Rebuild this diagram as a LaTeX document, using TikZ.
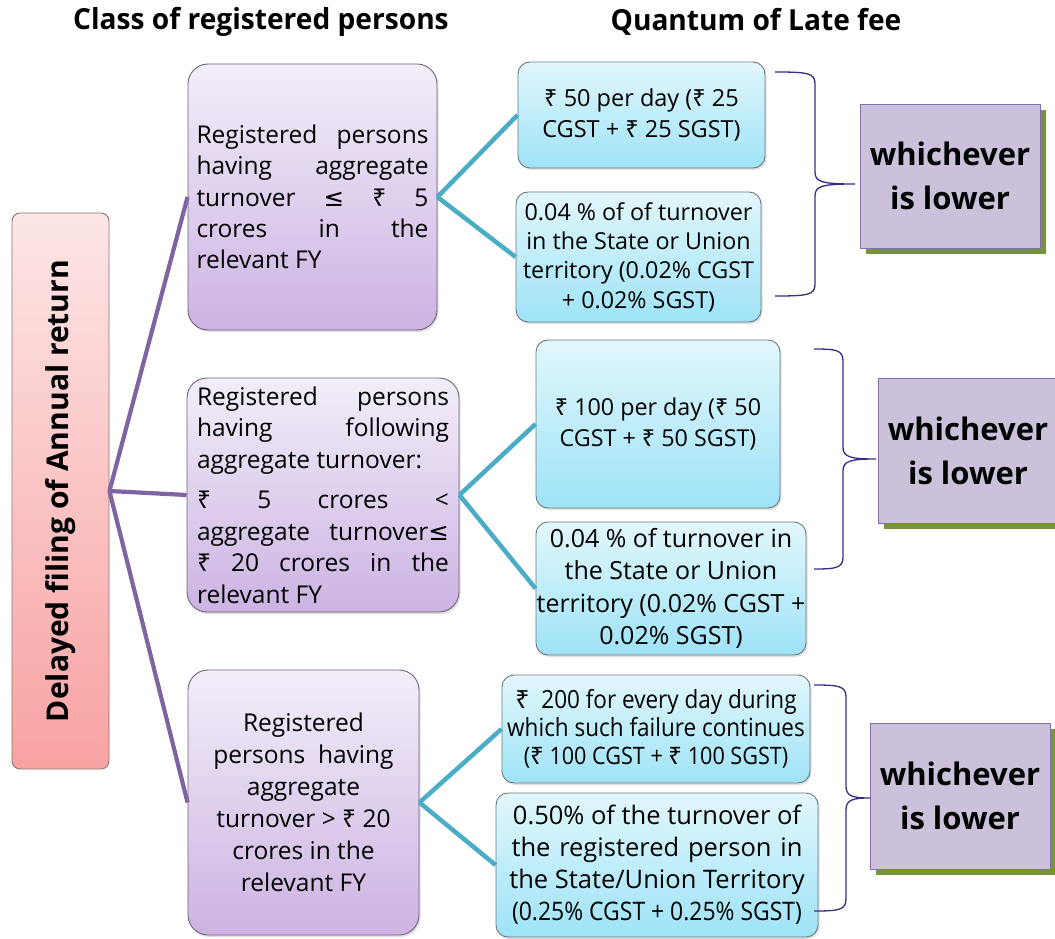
\documentclass[tikz,border=0pt]{standalone}
\usepackage{fontspec}
\setmainfont{Open Sans}
\newfontfamily\condf[FakeStretch=0.9]{Open Sans}
\newfontfamily\headf[FakeStretch=0.97]{Open Sans}
\newfontfamily\rupf{Noto Sans}
\newfontfamily\symf{DejaVu Sans}
\usetikzlibrary{shadows}
\definecolor{pinkTop}{HTML}{FDE6E6}
\definecolor{pinkBot}{HTML}{F8A2A2}
\definecolor{pinkBorder}{HTML}{8C7272}
\definecolor{purTop}{HTML}{F3EEF9}
\definecolor{purBot}{HTML}{CCB3E3}
\definecolor{purBorder}{HTML}{6E6478}
\definecolor{cyTop}{HTML}{E2F7FC}
\definecolor{cyBot}{HTML}{9EE3F7}
\definecolor{cyBorder}{HTML}{6A7B80}
\definecolor{wFill}{HTML}{CCC1DA}
\definecolor{wBorder}{HTML}{8470A8}
\definecolor{wShadow}{HTML}{77933C}
\definecolor{purLine}{HTML}{8064A2}
\definecolor{cyLine}{HTML}{4BACC6}
\definecolor{braceCol}{HTML}{3A2C86}
\tikzset{
  pinkbox/.style={draw=pinkBorder, line width=0.9pt, rounded corners=8pt, top color=pinkTop, bottom color=pinkBot, inner sep=0pt},
  purbox/.style={draw=purBorder, line width=0.9pt, rounded corners=20pt, top color=purTop, bottom color=purBot, inner sep=0pt,
    drop shadow={shadow xshift=1.5pt, shadow yshift=-2pt, opacity=0.25}},
  cybox/.style={draw=cyBorder, line width=0.9pt, rounded corners=12pt, top color=cyTop, bottom color=cyBot, inner sep=0pt, align=center,
    drop shadow={shadow xshift=1.5pt, shadow yshift=-2pt, opacity=0.25}},
  wbox/.style={draw=wBorder, line width=0.8pt, fill=wFill, inner sep=0pt, align=center,
    font=\fontsize{31}{44}\selectfont\bfseries,
    drop shadow={shadow xshift=6pt, shadow yshift=-6pt, fill=wShadow, opacity=1}},
  purline/.style={draw=purLine, line width=4.2pt},
  cyline/.style={draw=cyLine, line width=4.5pt},
  bracestyle/.style={draw=braceCol, line width=1.3pt},
  header/.style={font=\headf\bfseries\fontsize{29}{33}\selectfont}
}
\newcommand{\rup}{{\rupf ₹}}
\newcommand{\leqs}{{\symf ≤}}
\begin{document}
\begin{tikzpicture}[x=1pt,y=-1pt]
\useasboundingbox (0,0) rectangle (1055,939);

% headers
\node[header] (h1) at (261,22) {Class of registered persons};
\node[header] (h2) at (756,22) {Quantum of Late fee};

% root
\node[pinkbox, minimum width=97pt, minimum height=556pt] (root) at (60.5,491)
  {\rotatebox{90}{\fontsize{30}{34}\selectfont\bfseries Delayed filing of Annual return}};

% class boxes
\node[purbox, minimum width=249pt, minimum height=266pt, align=left,
  font=\fontsize{24.5}{31.2}\selectfont] (p1) at (312.5,197) {%
\makebox[232pt][s]{Registered persons}\\
\makebox[232pt][s]{having aggregate}\\
\makebox[232pt][s]{turnover \leqs{} \rup{} 5}\\
\makebox[232pt][s]{crores in the}\\
relevant FY};

\node[purbox, minimum width=272pt, minimum height=234pt, align=left,
  font=\fontsize{24.5}{31.5}\selectfont] (p2) at (323,495) {%
\makebox[252pt][s]{Registered persons}\\
\makebox[252pt][s]{having following}\\
aggregate turnover:\\[9pt]
\makebox[252pt][s]{\rup{} 5 crores <}\\
\makebox[252pt][s]{aggregate turnover\leqs}\\
\makebox[252pt][s]{\rup{} 20 crores in the}\\
relevant FY};

\node[purbox, minimum width=231pt, minimum height=265pt, align=center,
  font=\fontsize{24.5}{32}\selectfont] (p3) at (303.5,802.5) {%
Registered\\
persons~ having\\
aggregate\\
turnover > \rup{} 20\\
crores in the\\
relevant FY};

% fee boxes
\node[cybox, minimum width=247pt, minimum height=106pt, font=\fontsize{23.5}{31}\selectfont] (c1) at (641.5,115)
  {\rup{} 50 per day (\rup{} 25\\CGST + \rup{} 25 SGST)};
\node[cybox, minimum width=245pt, minimum height=130pt, font=\fontsize{23.3}{29.3}\selectfont] (c2) at (638.5,257)
  {0.04 \% of of turnover\\in the State or Union\\territory (0.02\% CGST\\+ 0.02\% SGST)};
\node[cybox, minimum width=244pt, minimum height=168pt, font=\fontsize{23.3}{31}\selectfont] (c3) at (658,424)
  {\rup{} 100 per day (\rup{} 50\\CGST + \rup{} 50 SGST)};
\node[cybox, minimum width=270pt, minimum height=133pt, font=\fontsize{25}{32.5}\selectfont] (c4) at (671,588.5)
  {0.04 \% of turnover in\\the State or Union\\territory (0.02\% CGST +\\0.02\% SGST)};
\node[cybox, minimum width=308pt, minimum height=108pt, font=\condf\fontsize{25}{28}\selectfont] (c5) at (656,729)
  {\rup{}~ 200 for every day during\\which such failure continues\\{\fontsize{24}{28}\selectfont(\rup{} 100 CGST + \rup{} 100 SGST)}};
\node[cybox, minimum width=322pt, minimum height=144pt, font=\fontsize{25.5}{32}\selectfont] (c6) at (657,865)
  {0.50\% of the turnover of\\
   \makebox[291pt][s]{the registered person in}\\
   the State/Union Territory\\
   {\condf(0.25\% CGST + 0.25\% SGST)}};

% whichever boxes
\node[wbox, minimum width=180pt, minimum height=144pt] (w1) at (950,176) {whichever\\is lower};
\node[wbox, minimum width=180pt, minimum height=145pt] (w2) at (968,450.5) {whichever\\is lower};
\node[wbox, minimum width=180pt, minimum height=146pt] (w3) at (960,796) {whichever\\is lower};

% purple connectors
\draw[purline] (root.east) -- (p1.west);
\draw[purline] (root.east) -- (p2.west);
\draw[purline] (root.east) -- (p3.west);

% cyan connectors
\draw[cyline] (p1.east) -- (c1.west);
\draw[cyline] (p1.east) -- (c2.west);
\draw[cyline] (p2.east) -- (c3.west);
\draw[cyline] (p2.east) -- (c4.west);
\draw[cyline] (p3.east) -- (c5.west);
\draw[cyline] (p3.east) -- (c6.west);

% braces
\coordinate (b1) at (855,184);
\coordinate (b2) at (876,459);
\coordinate (b3) at (870,798);
\draw[bracestyle] (775,72) .. controls (808,72) and (815,73) .. (815,84) -- (815,172)
  .. controls (815,182) and (822,184) .. (b1)
  .. controls (822,184) and (815,186) .. (815,196) -- (815,284)
  .. controls (815,295) and (808,296) .. (775,296);
\draw[bracestyle] (814,349) .. controls (836,349) and (843,350) .. (843,361) -- (843,447)
  .. controls (843,457) and (850,459) .. (b2)
  .. controls (850,459) and (843,461) .. (843,471) -- (843,557)
  .. controls (843,568) and (836,569) .. (814,569);
\draw[bracestyle] (814,685) .. controls (839,685) and (846,686) .. (846,697) -- (846,786)
  .. controls (846,796) and (852,798) .. (b3)
  .. controls (852,798) and (846,800) .. (846,810) -- (846,899)
  .. controls (846,910) and (839,911) .. (814,911);
\end{tikzpicture}
\end{document}
